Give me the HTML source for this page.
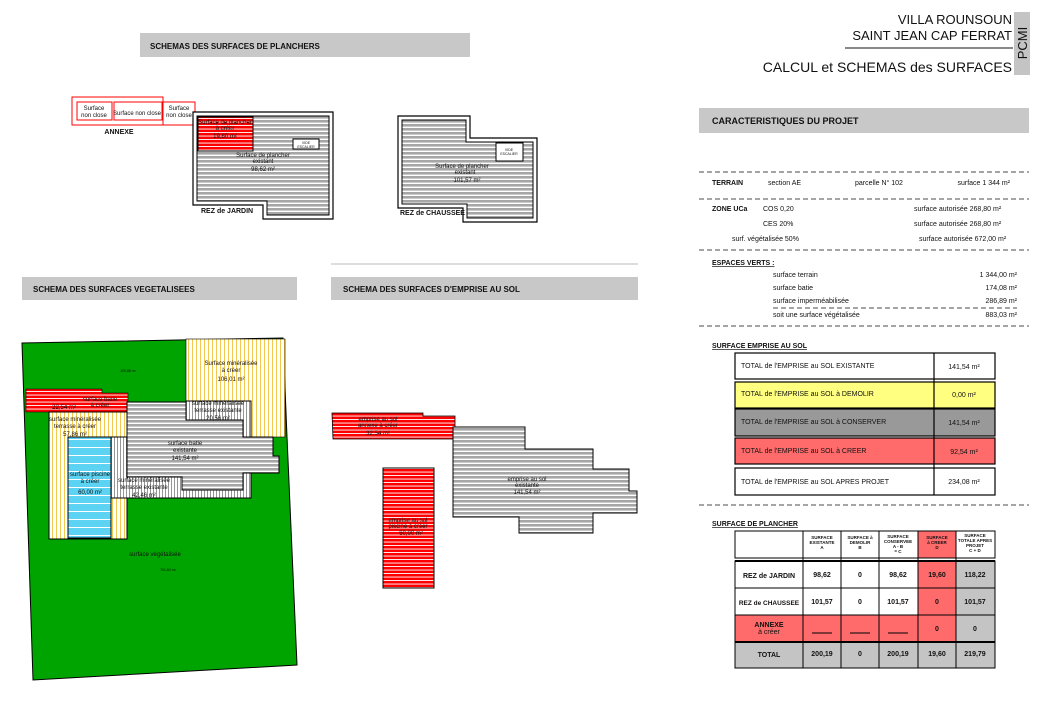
<!DOCTYPE html>
<html><head><meta charset="utf-8"><style>
html,body{margin:0;padding:0;background:#fff;}
svg{display:block;font-family:"Liberation Sans",Arial,sans-serif;}
.t{font-size:6px;fill:#111;text-anchor:middle}
.s{font-size:7px;fill:#111}
.b{font-size:8px;font-weight:bold;fill:#111}
</style></head><body>
<svg width="1042" height="717" viewBox="0 0 1042 717" xmlns="http://www.w3.org/2000/svg">
<defs>
<pattern id="ph" width="4" height="4" patternUnits="userSpaceOnUse"><rect width="4" height="4" fill="#fff"/><rect width="4" height="2.6" fill="#a6a6a6"/></pattern>
<pattern id="pr" width="4" height="3.5" patternUnits="userSpaceOnUse"><rect width="4" height="3.5" fill="#f00"/><rect y="2.6" width="4" height="0.9" fill="#fff"/></pattern>
<pattern id="py" width="4" height="4" patternUnits="userSpaceOnUse"><rect width="4" height="4" fill="#fff"/><rect width="1" height="4" fill="#f2c94c"/></pattern>
<pattern id="pv" width="3" height="4" patternUnits="userSpaceOnUse"><rect width="3" height="4" fill="#fff"/><rect width="0.9" height="4" fill="#8a8a8a"/></pattern>
<pattern id="pb" width="4" height="8" patternUnits="userSpaceOnUse"><rect width="4" height="8" fill="#5dd3f3"/><rect y="7" width="4" height="1" fill="#fff"/></pattern>
</defs>

<text x="1012" y="24" font-size="13" text-anchor="end" fill="#111">VILLA ROUNSOUN</text>
<text x="1012" y="40" font-size="13" text-anchor="end" fill="#111">SAINT JEAN CAP FERRAT</text>
<line x1="845" y1="48" x2="1013" y2="48" stroke="#111" stroke-width="1"/>
<text x="1012" y="72" font-size="14" text-anchor="end" fill="#111">CALCUL et SCHEMAS des SURFACES</text>
<rect x="1014" y="12" width="16" height="63" fill="#c4c4c4"/>
<text transform="translate(1027,43) rotate(-90)" font-size="13" text-anchor="middle" fill="#111">PCMI</text>

<rect x="140" y="33" width="330" height="24" fill="#c8c8c8"/>
<text x="150" y="49" class="b">SCHEMAS DES SURFACES DE PLANCHERS</text>
<rect x="22" y="277" width="275" height="23" fill="#c8c8c8"/>
<text x="33" y="292" class="b">SCHEMA DES SURFACES VEGETALISEES</text>
<line x1="331" y1="264" x2="638" y2="264" stroke="#bbb"/>
<rect x="331" y="277" width="307" height="23" fill="#c8c8c8"/>
<text x="343" y="292" class="b">SCHEMA DES SURFACES D'EMPRISE AU SOL</text>
<rect x="699" y="108" width="330" height="25" fill="#c8c8c8"/>
<text x="712" y="124" class="b" style="font-size:9px">CARACTERISTIQUES  DU  PROJET</text>

<g fill="none" stroke="#f00" stroke-width="1">
<rect x="72" y="97" width="91" height="28"/>
<rect x="77" y="102" width="35" height="18"/>
<rect x="114" y="102" width="48" height="18"/>
<rect x="163" y="102" width="32" height="23"/>
</g>
<text x="94" y="110" class="t">Surface</text><text x="94" y="117" class="t">non close</text>
<text x="137" y="115" class="t">Surface non close</text>
<text x="179" y="110" class="t">Surface</text><text x="179" y="117" class="t">non close</text>
<text x="119" y="134" class="b" style="font-size:7px" text-anchor="middle">ANNEXE</text>

<path d="M193,112 H333 V219 H263 V205 H193 Z" fill="#fff" stroke="#000" stroke-width="1.2"/>
<path d="M197,116 H329 V215 H267 V201 H197 Z" fill="url(#ph)" stroke="#000" stroke-width="1"/>
<rect x="198" y="117" width="55" height="34" fill="url(#pr)" stroke="#000"/>
<text x="225" y="124" class="t">Surface de plancher</text><text x="225" y="130" class="t">à créer</text><text x="225" y="138" class="t">19,60 m²</text>
<rect x="293" y="139" width="26" height="10" fill="#fff" stroke="#000"/>
<text x="306" y="144" class="t" style="font-size:3.5px">VIDE</text><text x="306" y="148" class="t" style="font-size:3.5px">ESCALIER</text>
<text x="263" y="157" class="t">Surface de plancher</text><text x="263" y="163" class="t">existant</text><text x="263" y="171" class="t">98,62 m²</text>
<text x="201" y="213" class="s" font-weight="bold">REZ de JARDIN</text>

<path d="M398,116 H470 V138 H537 V222 H463 V208 H398 Z" fill="#fff" stroke="#000" stroke-width="1.2"/>
<path d="M402,120 H466 V142 H533 V218 H467 V204 H402 Z" fill="url(#ph)" stroke="#000"/>
<rect x="496" y="143" width="27" height="18" fill="#fff" stroke="#000"/>
<text x="509" y="151" class="t" style="font-size:3.5px">VIDE</text><text x="509" y="155" class="t" style="font-size:3.5px">ESCALIER</text>
<text x="462" y="168" class="t">Surface de plancher</text><text x="465" y="174" class="t">existant</text><text x="467" y="182" class="t">101,57 m²</text>
<text x="400" y="215" class="s" font-weight="bold">REZ de CHAUSSEE</text>

<path d="M22,343 L283,338 L287,437 L297,665 L33,680 Z" fill="#00a400" stroke="#000"/>
<rect x="186" y="339" width="99" height="98" fill="url(#py)" stroke="#000" stroke-width="0.6"/>
<path d="M26,389 H102 V393 H128 V412 H26 Z" fill="url(#pr)" stroke="#000" stroke-width="0.6"/>
<rect x="49" y="412" width="78" height="127" fill="url(#py)" stroke="#000"/>
<rect x="186" y="401" width="65" height="36" fill="url(#pv)" stroke="#000"/>
<rect x="111" y="437" width="140" height="61" fill="url(#pv)" stroke="#000"/>
<rect x="68" y="437" width="43" height="101" fill="url(#pb)" stroke="#000"/>
<path d="M127,402 H186 V420 H243 V437 H273 V456 H279 V473 H243 V490 H182 V477 H127 Z" fill="url(#ph)" stroke="#000"/>
<text x="128" y="372" class="t" style="font-size:3.5px">105,88 m²</text>
<text x="231" y="365" class="t">Surface minéralisée</text><text x="231" y="372" class="t">à créer</text><text x="231" y="381" class="t">106,01 m²</text>
<text x="100" y="401" class="t">surface batie</text><text x="100" y="407" class="t">à créer</text><text x="64" y="409" class="t">22,54 m²</text>
<text x="75" y="421" class="t">surface minéralisée</text><text x="75" y="428" class="t">terrasse à créer</text><text x="75" y="436" class="t">57,86 m²</text>
<text x="218" y="405" class="t">surface minéralisée</text><text x="218" y="412" class="t">terrasse existante</text><text x="218" y="420" class="t">20,56 m²</text>
<text x="185" y="445" class="t">surface batie</text><text x="185" y="452" class="t">existante</text><text x="185" y="460" class="t">141,54 m²</text>
<text x="90" y="476" class="t">surface piscine</text><text x="90" y="483" class="t">à créer</text><text x="90" y="494" class="t">60,00 m²</text>
<text x="144" y="482" class="t">surface minéralisée</text><text x="144" y="489" class="t">terrasse existante</text><text x="144" y="497" class="t">42,46 m²</text>
<text x="155" y="556" class="t">surface végétalisée</text><text x="168" y="571" class="t" style="font-size:3.5px">751,84 m²</text>

<path d="M332,413 H423 V416 H455 V439 H333 Z" fill="url(#pr)" stroke="#000" stroke-width="0.8"/>
<path d="M453,427 H525 V449 H593 V469 H629 V491 H637 V513 H593 V533 H519 V517 H453 Z" fill="url(#ph)" stroke="#000"/>
<rect x="383" y="468" width="51" height="120" fill="url(#pr)" stroke="#000"/>
<text x="378" y="421" class="t">emprise au sol</text><text x="378" y="427" class="t">annexe à créer</text><text x="378" y="435" class="t">32,54 m²</text>
<text x="527" y="481" class="t">emprise au sol</text><text x="527" y="487" class="t">existante</text><text x="527" y="494" class="t">141,54 m²</text>
<text x="408" y="522" class="t">emprise au sol</text><text x="408" y="528" class="t">piscine à créer</text><text x="411" y="535" class="t">60,00 m²</text>

<g stroke="#111" stroke-width="0.8" stroke-dasharray="5,3">
<line x1="699" y1="172" x2="1029" y2="172"/><line x1="699" y1="199" x2="1029" y2="199"/>
<line x1="699" y1="250" x2="1029" y2="250"/><line x1="773" y1="308" x2="1017" y2="308"/>
<line x1="699" y1="326" x2="1029" y2="326"/><line x1="699" y1="505" x2="1029" y2="505"/>
</g>
<g fill="#111" style="font-size:7px">
<text x="712" y="185" font-weight="bold">TERRAIN</text>
<text x="768" y="185">section  AE</text>
<text x="855" y="185">parcelle   N°   102</text>
<text x="1010" y="185" text-anchor="end">surface   1 344 m²</text>
<text x="712" y="211" font-weight="bold">ZONE  UCa</text>
<text x="763" y="211">COS  0,20</text>
<text x="914" y="211">surface autorisée     268,80 m²</text>
<text x="763" y="226">CES  20%</text>
<text x="914" y="226">surface autorisée     268,80 m²</text>
<text x="732" y="241">surf. végétalisée  50%</text>
<text x="919" y="241">surface autorisée     672,00 m²</text>
<text x="712" y="265" font-weight="bold" text-decoration="underline">ESPACES VERTS  :</text>
<text x="773" y="277">surface terrain</text><text x="1017" y="277" text-anchor="end">1 344,00 m²</text>
<text x="773" y="290">surface batie</text><text x="1017" y="290" text-anchor="end">174,08 m²</text>
<text x="773" y="303">surface  imperméabilisée</text><text x="1017" y="303" text-anchor="end">286,89 m²</text>
<text x="773" y="317">soit une surface végétalisée</text><text x="1017" y="317" text-anchor="end">883,03 m²</text>
<text x="712" y="348" font-weight="bold" text-decoration="underline">SURFACE EMPRISE AU SOL</text>
<text x="712" y="526" font-weight="bold" text-decoration="underline">SURFACE DE PLANCHER</text>
</g>

<g stroke="#000" stroke-width="1.2">
<rect x="735" y="353" width="260" height="26" fill="#fff"/>
<rect x="735" y="382" width="260" height="26" fill="#ffff80"/>
<rect x="735" y="409" width="260" height="27" fill="#999"/>
<rect x="735" y="438" width="260" height="26" fill="#ff6b6b"/>
<rect x="735" y="468" width="260" height="27" fill="#fff"/>
<line x1="934" y1="353" x2="934" y2="495"/>
</g>
<g style="font-size:7px" fill="#111">
<text x="741" y="368">TOTAL  de l'EMPRISE au SOL EXISTANTE</text><text x="964" y="369" text-anchor="middle">141,54 m²</text>
<text x="741" y="396">TOTAL  de l'EMPRISE au SOL à DEMOLIR</text><text x="964" y="397" text-anchor="middle">0,00 m²</text>
<text x="741" y="424">TOTAL  de l'EMPRISE au SOL à CONSERVER</text><text x="964" y="425" text-anchor="middle">141,54 m²</text>
<text x="741" y="453">TOTAL  de l'EMPRISE au SOL à CREER</text><text x="964" y="454" text-anchor="middle">92,54 m²</text>
<text x="741" y="484">TOTAL  de l'EMPRISE au SOL APRES PROJET</text><text x="964" y="484" text-anchor="middle">234,08 m²</text>
</g>

<g stroke="#000" stroke-width="1">
<rect x="735" y="531" width="260" height="27" fill="#fff"/>
<rect x="918" y="531" width="38" height="27" fill="#ff6b6b"/>
<rect x="735" y="561" width="260" height="107" fill="#fff"/>
<rect x="918" y="561" width="38" height="81" fill="#ff6b6b"/>
<rect x="956" y="561" width="39" height="81" fill="#c4c4c4"/>
<rect x="735" y="615" width="183" height="27" fill="#ff6b6b"/>
<rect x="735" y="642" width="260" height="26" fill="#c4c4c4"/>
<g fill="none"><line x1="803" y1="531" x2="803" y2="668"/><line x1="841" y1="531" x2="841" y2="668"/><line x1="879" y1="531" x2="879" y2="668"/><line x1="918" y1="531" x2="918" y2="668"/><line x1="956" y1="531" x2="956" y2="668"/>
<line x1="735" y1="588" x2="995" y2="588"/><line x1="735" y1="615" x2="995" y2="615"/><line x1="735" y1="642" x2="995" y2="642" stroke-width="2"/><line x1="735" y1="561" x2="995" y2="561" stroke-width="2"/>
<line x1="812" y1="633" x2="832" y2="633"/><line x1="850" y1="633" x2="870" y2="633"/><line x1="888" y1="633" x2="908" y2="633"/></g>
</g>
<g style="font-size:4.5px" fill="#111" text-anchor="middle" font-weight="bold">
<text x="822" y="539">SURFACE</text><text x="822" y="544">EXISTANTE</text><text x="822" y="549">A</text>
<text x="860" y="539">SURFACE à</text><text x="860" y="544">DEMOLIR</text><text x="860" y="549">B</text>
<text x="898" y="538">SURFACE</text><text x="898" y="543">CONSERVEE</text><text x="898" y="548">A - B</text><text x="898" y="553">= C</text>
<text x="937" y="539">SURFACE</text><text x="937" y="544">à CREER</text><text x="937" y="549">D</text>
<text x="975" y="537">SURFACE</text><text x="975" y="542">TOTALE APRES</text><text x="975" y="547">PROJET</text><text x="975" y="552">C + D</text>
</g>
<g style="font-size:7px" fill="#111" text-anchor="middle" font-weight="bold">
<text x="769" y="578">REZ de JARDIN</text><text x="822" y="577">98,62</text><text x="860" y="577">0</text><text x="898" y="577">98,62</text><text x="937" y="577">19,60</text><text x="975" y="577">118,22</text>
<text x="769" y="605" style="font-size:6.5px">REZ de CHAUSSEE</text><text x="822" y="604">101,57</text><text x="860" y="604">0</text><text x="898" y="604">101,57</text><text x="937" y="604">0</text><text x="975" y="604">101,57</text>
<text x="769" y="627">ANNEXE</text><text x="769" y="634" font-weight="normal">à créer</text><text x="937" y="631">0</text><text x="975" y="631">0</text>
<text x="769" y="657">TOTAL</text><text x="822" y="656">200,19</text><text x="860" y="656">0</text><text x="898" y="656">200,19</text><text x="937" y="656">19,60</text><text x="975" y="656">219,79</text>
</g>
</svg>
</body></html>
